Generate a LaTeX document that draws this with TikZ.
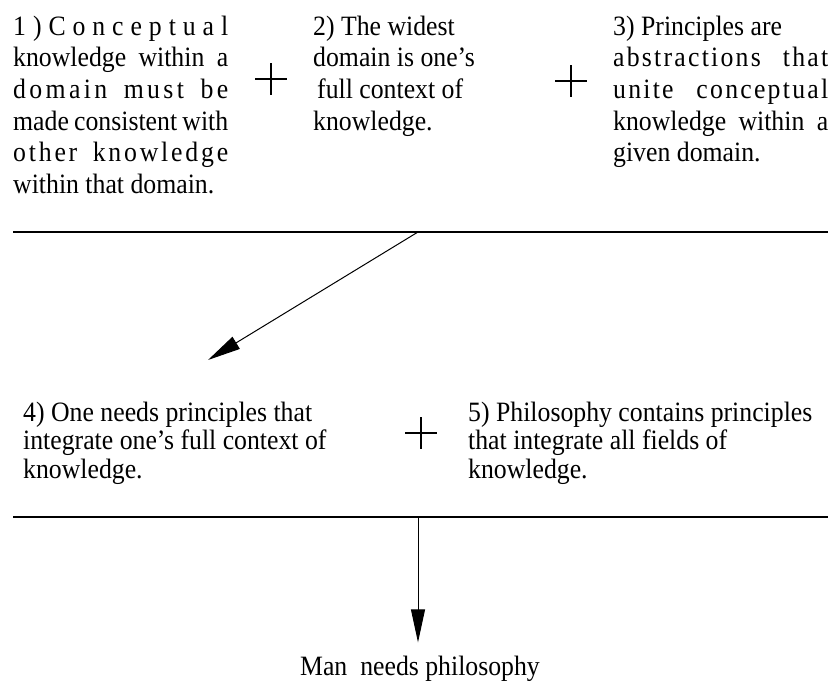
\documentclass[tikz,border=0pt]{standalone}
\usepackage{fontspec}
\setmainfont{Liberation Serif}[FakeStretch=0.92]
\usetikzlibrary{arrows.meta}

% width of the justified paragraphs
\newlength\blockw
\setlength\blockw{215pt}
% one justified line, optionally letter-spaced
\newcommand{\jl}[2][0]{\makebox[\blockw][s]{\addfontfeature{LetterSpace=#1}#2}}
% first-line strut: fixes the distance from the node top to the first baseline
\newcommand{\firstline}{\rule{0pt}{20pt}}

\tikzset{
  premise/.style={anchor=north west, inner sep=0pt, align=left,
    font=\fontsize{28}{31.6}\selectfont},
  premiselow/.style={premise, font=\fontsize{28}{28.5}\selectfont},
  plusmark/.style={line width=1.4pt},
  bar/.style={line width=2.2pt},
  arr/.style={line width=1pt, -{Triangle[length=33pt,width=14pt]}},
}

\begin{document}
\begin{tikzpicture}[x=1pt,y=-1pt]
\useasboundingbox (0,0) rectangle (831,683);

% ---- first row of premises ----
\node[premise] (p1) at (13,15) {%
  \firstline\hbox to \blockw{1\hfill)\hfill C\hfill o\hfill n\hfill c\hfill e\hfill p\hfill t\hfill u\hfill a\hfill l}\\
  \jl{knowledge within a}\\
  \jl[12]{domain must be}\\
  \jl{made consistent with}\\
  \jl[10]{other knowledge}\\
  within that domain.};

\node[premise] (p2) at (313,15) {%
  \firstline 2) The widest\\
  domain is one’s\\
  \hspace{4pt}full context of\\
  knowledge.};

\node[premise] (p3) at (613,15) {%
  \firstline 3) Principles are\\
  \jl[8]{abstractions that}\\
  \jl[8]{unite conceptual}\\
  \jl{knowledge within a}\\
  given domain.};

\coordinate (plusA) at (271,79);
\coordinate (plusB) at (571,81);
\draw[plusmark] (plusA) +(-16,0) -- +(16,0) (plusA) +(0,-16) -- +(0,16);
\draw[plusmark] (plusB) +(-16,0) -- +(16,0) (plusB) +(0,-16) -- +(0,16);

% ---- first conclusion bar ----
\coordinate (barAl) at (13,232);
\coordinate (barAr) at (828,232);
\coordinate (joinA) at (418,232);
\coordinate (tipA) at (208,360);
\draw[bar] (barAl) -- (barAr);
\draw[arr] (joinA) -- (tipA);

% ---- second row of premises ----
\node[premiselow] (p4) at (23,401) {%
  \firstline 4) One needs principles that\\
  integrate one’s full context of\\
  knowledge.};

\node[premiselow] (p5) at (468,401) {%
  \firstline 5) Philosophy contains principles\\
  that integrate all fields of\\
  knowledge.};

\coordinate (plusC) at (421,433);
\draw[plusmark] (plusC) +(-16,0) -- +(16,0) (plusC) +(0,-16) -- +(0,16);

% ---- final conclusion ----
\coordinate (barBl) at (13,517);
\coordinate (barBr) at (828,517);
\coordinate (joinB) at (418,517);
\draw[bar] (barBl) -- (barBr);

\node[inner sep=0pt, anchor=base, font=\fontsize{28}{30}\selectfont] (concl) at (420,675) {Man\ \ needs philosophy};
\draw[arr] (joinB) -- ([yshift=13pt]concl.north -| joinB);
\end{tikzpicture}
\end{document}
